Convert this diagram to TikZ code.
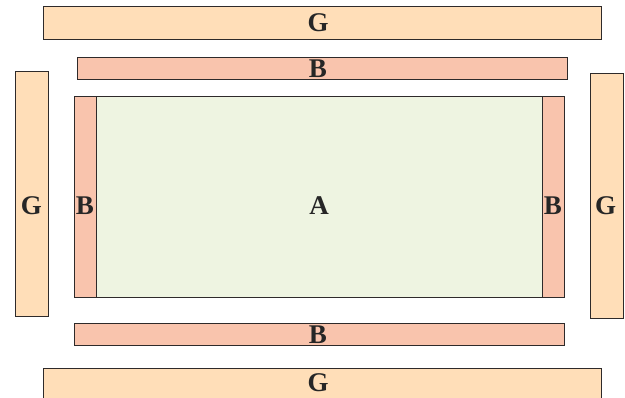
\documentclass[tikz,border=0pt]{standalone}
\usepackage{fontspec}
\setmainfont{Liberation Serif}
\definecolor{gfill}{HTML}{FFDEB8}
\definecolor{bfill}{HTML}{F9C4AD}
\definecolor{afill}{HTML}{EEF4E1}
\definecolor{edge}{HTML}{2E2A2A}
\begin{document}
\begin{tikzpicture}[x=1pt,y=-1pt,
  box/.style={draw=edge, line width=0.9pt, inner sep=0pt, outer sep=0pt},
  gbox/.style={box, fill=gfill},
  bbox/.style={box, fill=bfill},
  abox/.style={box, fill=afill},
  lab/.style={font=\fontsize{27}{27}\selectfont\bfseries, text=black!85, inner sep=0pt}]
\useasboundingbox (0,0) rectangle (625,398);
\clip (0,0) rectangle (625,398);
% G boxes
\node[gbox, minimum width=558pt, minimum height=33pt] (gt) at (322,22.5) {};
\node[gbox, minimum width=33pt, minimum height=245pt] (gl) at (31.5,193.5) {};
\node[gbox, minimum width=33pt, minimum height=245pt] (gr) at (606.5,195.5) {};
\node[gbox, minimum width=558pt, minimum height=42pt] (gb) at (322,389) {};
% B boxes
\node[bbox, minimum width=490pt, minimum height=22pt] (bt) at (322,68) {};
\node[bbox, minimum width=490pt, minimum height=22pt] (bb) at (319,334) {};
% A with side B strips
\node[abox, minimum width=446pt, minimum height=201pt] (a) at (319,196.5) {};
\node[bbox, minimum width=22pt, minimum height=201pt] (bl) at (85,196.5) {};
\node[bbox, minimum width=22pt, minimum height=201pt] (br) at (553,196.5) {};
% labels
\node[lab] (tgt) at (318,22.5) {G};
\node[lab] (tbt) at (318,68.5) {B};
\node[lab] (ta) at (319,205.5) {A};
\node[lab] (tgl) at (31.5,205.5) {G};
\node[lab] (tbl) at (85,205.5) {B};
\node[lab] (tbr) at (553,205.5) {B};
\node[lab] (tgr) at (605.5,205.5) {G};
\node[lab] (tbb) at (318,334.5) {B};
\node[lab] (tgb) at (318,383) {G};
\end{tikzpicture}
\end{document}
